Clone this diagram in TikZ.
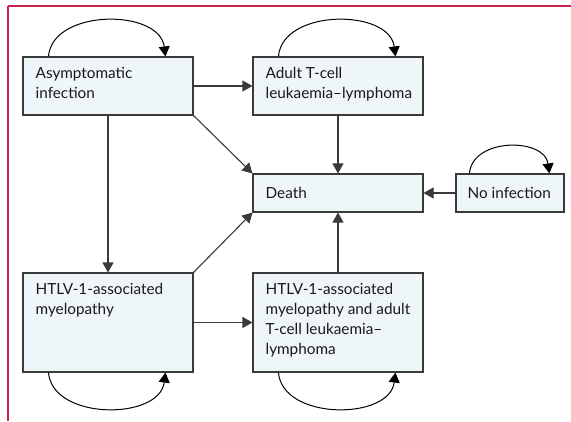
\documentclass[tikz,border=0pt]{standalone}
\usepackage{fontspec}
\setmainfont{Lato}
\usetikzlibrary{arrows.meta}
\definecolor{boxfill}{HTML}{EEF6F9}
\definecolor{boxdraw}{HTML}{3A3A3A}
\definecolor{frame}{HTML}{C8264E}
\tikzset{
  box/.style={draw=boxdraw, fill=boxfill, line width=1.1pt, rectangle, inner sep=0pt},
  lab/.style={anchor=north west, align=left, inner sep=0pt, font=\fontsize{15.3}{20}\selectfont, text=black!90},
  conn/.style={draw=boxdraw, line width=1.1pt, -{Triangle[length=10pt,width=11pt]}},
  selfloop/.style={draw=black, line width=1pt, -{Triangle[length=10pt,width=11pt]}},
  framerule/.style={draw=frame, line width=1.4pt}
}
\begin{document}
\begin{tikzpicture}[x=1pt,y=-1pt]
\useasboundingbox (0,0) rectangle (571,421);
\coordinate (fbl) at (8,421);
\coordinate (ftl) at (8,6);
\coordinate (ftr) at (571,6);
\draw[framerule] (fbl) -- (ftl);
\draw[framerule] (ftl) -- (ftr);
\node[box, minimum width=170pt, minimum height=58pt] (asym) at (108,86) {};
\node[box, minimum width=170pt, minimum height=58pt] (atl) at (338,86) {};
\node[box, minimum width=170pt, minimum height=38pt] (death) at (338,193) {};
\node[box, minimum width=108pt, minimum height=38pt] (noinf) at (510,193) {};
\node[box, minimum width=170pt, minimum height=99pt] (ham) at (108,322.5) {};
\node[box, minimum width=170pt, minimum height=99pt] (both) at (338,322.5) {};
\node[lab] (tasym) at ([xshift=13pt,yshift=-11pt]asym.north west) {Asymptomatic\\infection};
\node[lab] (tatl) at ([xshift=13pt,yshift=-11pt]atl.north west) {Adult T-cell\\leukaemia–lymphoma};
\node[lab, anchor=west] (tdeath) at ([xshift=13pt]death.west) {Death};
\node[lab, anchor=west] (tnoinf) at ([xshift=12pt]noinf.west) {No infection};
\node[lab] (tham) at ([xshift=13pt,yshift=-11pt]ham.north west) {HTLV-1-associated\\myelopathy};
\node[lab] (tboth) at ([xshift=13pt,yshift=-11pt]both.north west) {HTLV-1-associated\\myelopathy and adult\\T-cell leukaemia–\\lymphoma};
% connectors
\draw[conn] (asym.east) -- (atl.west);
\draw[conn] (asym.south) -- (ham.north);
\draw[conn] (asym.south east) -- (death.north west);
\draw[conn] (atl.south) -- (death.north);
\draw[conn] (noinf.west) -- (death.east);
\draw[conn] (ham.north east) -- (death.south west);
\draw[conn] (ham.east) -- (both.west);
\draw[conn] (both.north) -- (death.south);
% self loops
\draw[selfloop] ([xshift=26pt]asym.north west) .. controls +(4,-48) and +(-6,-48) .. ([xshift=143pt]asym.north west);
\draw[selfloop] ([xshift=26pt]atl.north west) .. controls +(4,-48) and +(-6,-48) .. ([xshift=143pt]atl.north west);
\draw[selfloop] ([xshift=14pt]noinf.north west) .. controls +(3,-36) and +(-5,-36) .. ([xshift=94pt]noinf.north west);
\draw[selfloop] ([xshift=26pt]ham.south west) .. controls +(4,48) and +(-6,48) .. ([xshift=143pt]ham.south west);
\draw[selfloop] ([xshift=26pt]both.south west) .. controls +(4,48) and +(-6,48) .. ([xshift=143pt]both.south west);
\end{tikzpicture}
\end{document}
